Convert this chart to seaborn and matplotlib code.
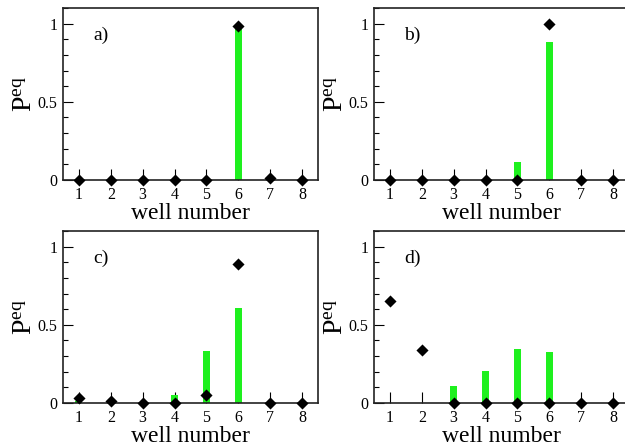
import numpy as np
import pandas as pd
import seaborn as sns
import matplotlib
matplotlib.use("Agg")
import matplotlib.pyplot as plt
from matplotlib.ticker import MultipleLocator

plt.rcParams['font.family'] = ['Liberation Serif', 'DejaVu Serif']
plt.rcParams['mathtext.fontset'] = 'custom'
plt.rcParams['mathtext.rm'] = 'Liberation Serif'
plt.rcParams['mathtext.it'] = 'Liberation Serif:italic'

wells = [1, 2, 3, 4, 5, 6, 7, 8]
panel_labels = ['a)', 'b)', 'c)', 'd)']

# green bars
bars_a = [0, 0, 0, 0, 0, 0.98, 0, 0]
bars_b = [0, 0, 0, 0, 0.115, 0.885, 0, 0]
bars_c = [0.01, 0, 0, 0.05, 0.33, 0.605, 0, 0]
bars_d = [0, 0, 0.107, 0.205, 0.344, 0.327, 0, 0]

# black diamonds
pts_a = [0, 0, 0, 0, 0, 0.985, 0.01, 0]
pts_b = [0, 0, 0, 0, 0, 1.0, 0, 0]
pts_c = [0.032, 0.01, 0, 0, 0.053, 0.89, 0, 0]
pts_d = [0.654, 0.342, 0, 0, 0, 0, 0, 0]

bars_all = [bars_a, bars_b, bars_c, bars_d]
pts_all = [pts_a, pts_b, pts_c, pts_d]

fig = plt.figure(figsize=(6.25, 4.46), dpi=100)
positions = [
    [0.1008, 0.5964, 0.408, 0.3857],
    [0.5984, 0.5964, 0.408, 0.3857],
    [0.1008, 0.0964, 0.408, 0.3857],
    [0.5984, 0.0964, 0.408, 0.3857],
]

for pos, bars, pts, lab in zip(positions, bars_all, pts_all, panel_labels):
    ax = fig.add_axes(pos)
    df = pd.DataFrame({'well': wells, 'bar': bars, 'pt': pts})
    sns.barplot(data=df, x='well', y='bar', native_scale=True, width=0.22,
                color='#1ef01e', saturation=1, ax=ax, zorder=2)
    sns.scatterplot(data=df, x='well', y='pt', marker='D', s=38, color='black',
                    edgecolor='black', linewidth=0, ax=ax, zorder=5, clip_on=False)
    ax.set_xlim(0.5, 8.5)
    ax.set_ylim(0, 1.1)
    ax.set_xticks(wells)
    ax.set_xticklabels([str(w) for w in wells])
    ax.set_yticks([0, 0.5, 1])
    ax.set_yticklabels(['0', '0.5', '1'])
    ax.yaxis.set_minor_locator(MultipleLocator(0.1))
    ax.tick_params(axis='x', direction='in', length=8, width=0.8, pad=5,
                   labelsize=11.5, top=False)
    ax.tick_params(axis='y', which='major', direction='in', length=7, width=0.8,
                   pad=4, labelsize=11.5, right=False)
    ax.tick_params(axis='y', which='minor', direction='in', length=3.5, width=0.8,
                   right=False)
    for sp in ax.spines.values():
        sp.set_linewidth(1.2)
        sp.set_color('#222222')
    ax.set_xlabel('well number', fontsize=17, labelpad=0)
    ax.set_ylabel(r'$\mathrm{P}^{\mathrm{eq}}$', fontsize=20, labelpad=0)
    ax.text(0.118, 0.84, lab, transform=ax.transAxes, fontsize=14,
            va='center', ha='left')

fig.savefig('out.png', dpi=100)
